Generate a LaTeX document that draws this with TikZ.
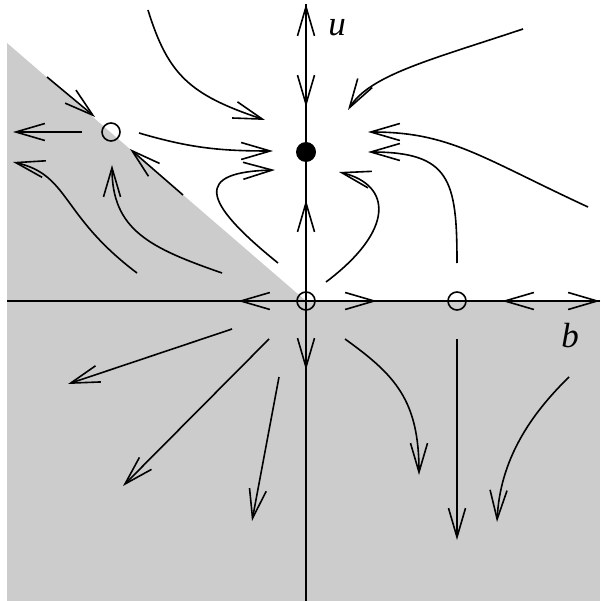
\documentclass[tikz,border=0pt]{standalone}
\usepackage{fontspec}
\setmainfont{Liberation Serif}
\usetikzlibrary{arrows.meta}
\tikzset{
  traj/.style={line width=1.6pt, -{Straight Barb[length=29pt,width=17pt,line width=1.6pt]}},
  axisline/.style={line width=1.6pt},
  opendot/.style={circle, draw, line width=1.6pt, minimum size=18pt, inner sep=0pt},
  fulldot/.style={circle, fill=black, minimum size=20pt, inner sep=0pt},
  axlabel/.style={font=\fontsize{35}{40}\selectfont\itshape, inner sep=0pt}
}
\begin{document}
\begin{tikzpicture}[x=1pt,y=-1pt]
\useasboundingbox (0,0) rectangle (600,601);
% shaded regions
\fill[black!20] (7,43) -- (306,301) -- (7,301) -- cycle;
\fill[black!20] (7,301) rectangle (600,601);
% axes
\coordinate (xl) at (7,301);
\coordinate (xr) at (600,301);
\coordinate (yb) at (306,601);
\coordinate (yt) at (306,4);
\draw[axisline] (xl) -- (xr);
\draw[axisline] (yb) -- (yt);
\draw[traj] (570,301) -- (xr);
\draw[traj] (306,40) -- (yt);
% fixed points
\node[opendot] (O) at (306,301) {};
\node[opendot] (R) at (457,301) {};
\node[opendot] (S) at (111,132) {};
\node[fulldot] (N) at (306,152) {};
% axis arrows
\draw[traj] (306,77) -- (306,107);
\draw[traj] (306,228) -- (306,200);
\draw[traj] (306,338) -- (306,370);
\draw[traj] (270,301) -- (238,301);
\draw[traj] (345,301) -- (377,301);
\draw[traj] (533,301) -- (502,301);
% labels
\node[axlabel] (lu) at (337,28) {u};
\node[axlabel] (lb) at (570,336) {b};
% trajectories upper left
\draw[traj] (148,10) .. controls (168,75) and (190,95) .. (265,120);
\draw[traj] (47,77) -- (95,117);
\draw[traj] (82,132) -- (13,132);
\draw[traj] (139,133) .. controls (190,148) and (220,151) .. (273,151);
\draw[traj] (183,195) -- (130,149);
\draw[traj] (137,273) .. controls (60,215) and (70,175) .. (13,162);
\draw[traj] (222,273) .. controls (150,248) and (112,230) .. (112,165);
\draw[traj] (278,263) .. controls (200,200) and (195,172) .. (275,170);
% upper right
\draw[traj] (523,29) .. controls (430,60) and (370,75) .. (348,110);
\draw[traj] (588,207) .. controls (480,157) and (450,132) .. (368,132);
\draw[traj] (457,263) .. controls (457,180) and (450,152) .. (368,152);
\draw[traj] (326,282) .. controls (395,230) and (392,185) .. (339,172);
% lower left
\draw[traj] (232,329) -- (68,384);
\draw[traj] (269,339) -- (123,486);
\draw[traj] (279,377) -- (252,521);
% lower right
\draw[traj] (345,339) .. controls (395,375) and (419,400) .. (419,475);
\draw[traj] (457,339) -- (457,540);
\draw[traj] (569,377) .. controls (530,415) and (500,460) .. (497,522);
\end{tikzpicture}
\end{document}
